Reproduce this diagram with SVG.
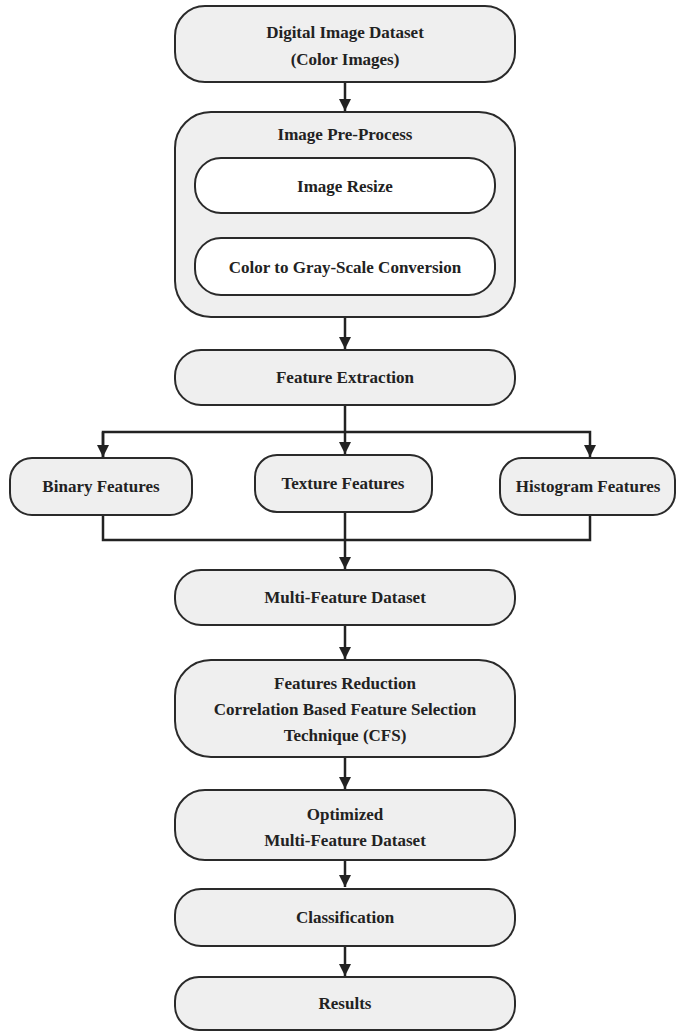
<svg xmlns="http://www.w3.org/2000/svg" width="683" height="1031" viewBox="0 0 683 1031">
<defs>
<marker id="ah" viewBox="0 0 10 10" refX="10" refY="5" markerWidth="5" markerHeight="5" orient="auto" markerUnits="strokeWidth">
<path d="M0,0 L10,5 L0,10 z" fill="#222"/>
</marker>
<style>
.box{fill:#efefef;stroke:#2a2a2a;stroke-width:2}
.inner{fill:#ffffff;stroke:#2a2a2a;stroke-width:2}
.t{font-family:"Liberation Serif","Times New Roman",serif;font-weight:bold;font-size:17px;fill:#222;text-anchor:middle}
.c{fill:none;stroke:#222;stroke-width:2.5}
</style>
</defs>
<rect width="683" height="1031" fill="#ffffff"/>
<g id="connectors">
<line class="c" x1="345" y1="82" x2="345" y2="111" marker-end="url(#ah)"/>
<line class="c" x1="345" y1="213" x2="345" y2="237" marker-end="url(#ah)"/>
<line class="c" x1="345" y1="317" x2="345" y2="349" marker-end="url(#ah)"/>
<line class="c" x1="345" y1="405" x2="345" y2="454" marker-end="url(#ah)"/>
<polyline class="c" points="103,457 103,432 590,432 590,457" marker-end="url(#ah)"/>
<line class="c" x1="103" y1="432" x2="103" y2="457" marker-end="url(#ah)"/>
<polyline class="c" points="103,515 103,540 590,540 590,515"/>
<line class="c" x1="345" y1="512" x2="345" y2="569" marker-end="url(#ah)"/>
<line class="c" x1="345" y1="625" x2="345" y2="659" marker-end="url(#ah)"/>
<line class="c" x1="345" y1="757" x2="345" y2="789" marker-end="url(#ah)"/>
<line class="c" x1="345" y1="860" x2="345" y2="887" marker-end="url(#ah)"/>
<line class="c" x1="345" y1="946" x2="345" y2="976" marker-end="url(#ah)"/>
</g>
<g id="n-dataset">
<rect class="box" x="175" y="6" width="340" height="76" rx="30"/>
<text class="t" x="345" y="38">Digital Image Dataset</text>
<text class="t" x="345" y="65">(Color Images)</text>
</g>
<g id="n-preprocess">
<rect class="box" x="175" y="112" width="340" height="205" rx="36"/>
<text class="t" x="345" y="140">Image Pre-Process</text>
</g>
<g id="n-resize">
<rect class="inner" x="195" y="158" width="300" height="55" rx="26"/>
<text class="t" x="345" y="192">Image Resize</text>
</g>
<g id="n-gray">
<rect class="inner" x="195" y="238" width="300" height="57" rx="26"/>
<text class="t" x="345" y="273">Color to Gray-Scale Conversion</text>
</g>
<g id="n-extraction">
<rect class="box" x="175" y="350" width="340" height="55" rx="26"/>
<text class="t" x="345" y="383">Feature Extraction</text>
</g>
<g id="n-binary">
<rect class="box" x="10" y="458" width="182" height="57" rx="22"/>
<text class="t" x="101" y="492">Binary Features</text>
</g>
<g id="n-texture">
<rect class="box" x="255" y="455" width="177" height="57" rx="22"/>
<text class="t" x="343" y="489">Texture Features</text>
</g>
<g id="n-histogram">
<rect class="box" x="500" y="458" width="175" height="57" rx="22"/>
<text class="t" x="588" y="492">Histogram Features</text>
</g>
<g id="n-multi">
<rect class="box" x="175" y="570" width="340" height="55" rx="26"/>
<text class="t" x="345" y="603">Multi-Feature Dataset</text>
</g>
<g id="n-reduction">
<rect class="box" x="175" y="660" width="340" height="97" rx="36"/>
<text class="t" x="345" y="689">Features Reduction</text>
<text class="t" x="345" y="715">Correlation Based Feature Selection</text>
<text class="t" x="345" y="741">Technique (CFS)</text>
</g>
<g id="n-optimized">
<rect class="box" x="175" y="790" width="340" height="70" rx="30"/>
<text class="t" x="345" y="820">Optimized</text>
<text class="t" x="345" y="846">Multi-Feature Dataset</text>
</g>
<g id="n-classification">
<rect class="box" x="175" y="889" width="340" height="57" rx="26"/>
<text class="t" x="345" y="923">Classification</text>
</g>
<g id="n-results">
<rect class="box" x="175" y="977" width="340" height="53" rx="24"/>
<text class="t" x="345" y="1009">Results</text>
</g>
</svg>
